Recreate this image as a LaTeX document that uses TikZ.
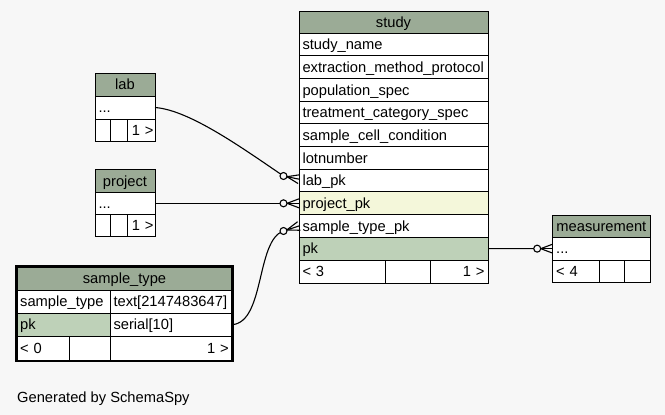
\documentclass[tikz,border=0pt]{standalone}
\usepackage{fontspec}
\setmainfont{Liberation Sans}
\usetikzlibrary{calc}
\definecolor{bg}{HTML}{F7F7F7}
\definecolor{hdr}{HTML}{9BAB96}
\definecolor{pkc}{HTML}{BED1B8}
\definecolor{idx}{HTML}{F4F7DA}
\tikzset{
  cellbox/.style={draw=black, line width=1pt, anchor=north west, inner xsep=3.5pt, inner ysep=0pt, outer sep=0pt,
    text height=12.6pt, text depth=2pt, font=\fontsize{14.7pt}{17pt}\selectfont},
  conn/.style={draw=black, line width=1.1pt}
}
\newcommand\dbcell[8]{%
  \pgfmathsetmacro\dbtw{#4-7}%
  \node[cellbox, fill=#6, align=#7, text width=\dbtw pt, minimum height=#5pt] (#1) at (#2,#3) {#8};}
\newcommand\dbnarrow[5]{%
  \pgfmathsetmacro\dbtw{#4-3}%
  \node[cellbox, inner xsep=1.5pt, fill=white, align=right, text width=\dbtw pt, minimum height=#5pt] (#1) at (#2,#3) {1~>};}
\newcommand\crowfoot[2]{%
  \draw[conn] ($(#1)!3.5pt!(#2)$) -- (#2);
  \draw[conn] ($(#1)!3.5pt!(#2)$) -- ($(#2)!4.5pt!90:(#1)$);
  \draw[conn] ($(#1)!3.5pt!(#2)$) -- ($(#2)!4.5pt!-90:(#1)$);
  \draw[conn, fill=bg] (#1) circle (3.5pt);}
\begin{document}
\begin{tikzpicture}[x=1pt, y=-1pt]
\useasboundingbox (0,0) rectangle (665,415);
\fill[bg] (0,0) rectangle (665,415);
% study
\dbcell{studyhdr}{299}{11}{189}{22.3}{hdr}{center}{study}
\dbcell{sname}{299}{33.3}{189}{22.67}{white}{left}{study\_name}
\dbcell{sextr}{299}{55.97}{189}{22.67}{white}{left}{extraction\_method\_protocol}
\dbcell{spop}{299}{78.64}{189}{22.67}{white}{left}{population\_spec}
\dbcell{streat}{299}{101.31}{189}{22.67}{white}{left}{treatment\_category\_spec}
\dbcell{scell}{299}{123.98}{189}{22.67}{white}{left}{sample\_cell\_condition}
\dbcell{slot}{299}{146.65}{189}{22.67}{white}{left}{lotnumber}
\dbcell{labpk}{299}{169.32}{189}{22.67}{white}{left}{lab\_pk}
\dbcell{projpk}{299}{191.99}{189}{22.67}{idx}{left}{project\_pk}
\dbcell{stpk}{299}{214.66}{189}{22.67}{white}{left}{sample\_type\_pk}
\dbcell{studypk}{299}{237.33}{189}{22.67}{pkc}{left}{pk}
\dbcell{sf1}{299}{260}{86}{23.3}{white}{left}{< 3}
\dbcell{sf2}{385}{260}{45}{23.3}{white}{left}{}
\dbcell{sf3}{430}{260}{58}{23.3}{white}{right}{1 >}
% lab
\dbcell{labhdr}{95}{73.3}{60}{22.7}{hdr}{center}{lab}
\dbcell{labrow}{95}{96}{60}{23}{white}{left}{...}
\dbcell{lf1}{95}{119}{15.7}{22.5}{white}{left}{}
\dbcell{lf2}{110.7}{119}{16.6}{22.5}{white}{left}{}
\dbnarrow{lf3}{127.3}{119}{27.7}{22.5}
% project
\dbcell{projhdr}{95}{169.3}{60}{23}{hdr}{center}{project}
\dbcell{projrow}{95}{192.3}{60}{22}{white}{left}{...}
\dbcell{pf1}{95}{214.3}{15.7}{22.4}{white}{left}{}
\dbcell{pf2}{110.7}{214.3}{16.6}{22.4}{white}{left}{}
\dbnarrow{pf3}{127.3}{214.3}{27.7}{22.4}
% sample_type
\dbcell{sthdr}{16.7}{266.7}{215.6}{23.3}{hdr}{center}{sample\_type}
\dbcell{stname}{16.7}{290}{93.3}{23.3}{white}{left}{sample\_type}
\dbcell{sttype}{110}{290}{122.3}{23.3}{white}{left}{text[2147483647]}
\dbcell{stpkname}{16.7}{313.3}{93.3}{22.7}{pkc}{left}{pk}
\dbcell{stpkval}{110}{313.3}{122.3}{22.7}{white}{left}{serial[10]}
\dbcell{stf1}{16.7}{336}{52.6}{25}{white}{left}{< 0}
\dbcell{stf2}{69.3}{336}{40.7}{25}{white}{left}{}
\dbcell{stf3}{110}{336}{122.3}{25}{white}{right}{1 >}
\draw[line width=2.6pt] (sthdr.north west) rectangle (stf3.south east);
% measurement
\dbcell{meashdr}{552.7}{215}{97.3}{22.3}{hdr}{center}{measurement}
\dbcell{measrow}{552.7}{237.3}{97.3}{22.7}{white}{left}{...}
\dbcell{mf1}{552.7}{260}{46.3}{22.7}{white}{left}{< 4}
\dbcell{mf2}{599}{260}{25.3}{22.7}{white}{left}{}
\dbcell{mf3}{624.3}{260}{25.7}{22.7}{white}{left}{}
% connectors
\coordinate (c1) at (283.5,176);
\coordinate (e1) at ($(labpk.west)+(0,-1.5)$);
\draw[conn] (labrow.east) .. controls (190,110) and (245,150) .. (c1);
\crowfoot{c1}{e1}
\coordinate (c2) at ($(projpk.west)+(-15.5,0)$);
\draw[conn] (projrow.east |- projpk.west) -- (c2);
\crowfoot{c2}{projpk.west}
\coordinate (c3) at (283.5,231);
\draw[conn] (stpkval.east) .. controls (265,322) and (256,240) .. (c3);
\crowfoot{c3}{stpk.west}
\coordinate (c4) at ($(measrow.west)+(-15.5,0)$);
\draw[conn] (studypk.east) -- (c4);
\crowfoot{c4}{measrow.west}
\node[anchor=base west, inner sep=0pt, font=\fontsize{14.7pt}{17pt}\selectfont] (gen) at (17,402.7) {Generated by SchemaSpy};
\end{tikzpicture}
\end{document}
